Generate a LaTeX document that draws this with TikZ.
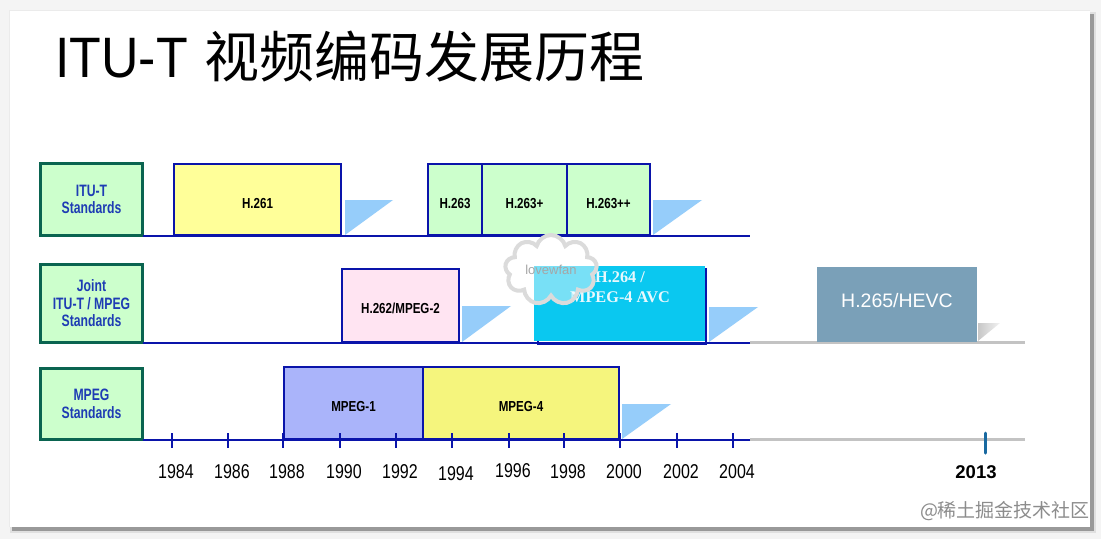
\documentclass[tikz,border=0pt]{standalone}
\usepackage{fontspec}
\setmainfont{Liberation Sans}
\newfontfamily\ttlfont[FakeStretch=0.91]{Liberation Sans}
\newfontfamily\cjkfont{Noto Sans CJK SC}
\newfontfamily\lblfont[FakeStretch=0.74]{Liberation Sans}
\newfontfamily\boxfont[FakeStretch=0.8]{Liberation Sans}
\newfontfamily\yearfont[FakeStretch=0.8]{Liberation Sans}
\newfontfamily\avcfont{Liberation Serif}
\usetikzlibrary{shapes.symbols}
\definecolor{pagebg}{RGB}{244,244,244}
\definecolor{labfill}{RGB}{204,255,204}
\definecolor{labborder}{RGB}{10,100,80}
\definecolor{lbltext}{RGB}{30,60,180}
\definecolor{boxblue}{RGB}{10,20,170}
\definecolor{yel}{RGB}{255,255,153}
\definecolor{yel2}{RGB}{245,245,125}
\definecolor{grn}{RGB}{204,255,204}
\definecolor{pnk}{RGB}{255,228,242}
\definecolor{lav}{RGB}{170,180,250}
\definecolor{cyanbox}{RGB}{10,200,240}
\definecolor{hevc}{RGB}{122,160,184}
\definecolor{tricol}{RGB}{150,205,250}
\definecolor{linegrey}{RGB}{195,195,195}
\definecolor{tickblue}{RGB}{25,105,160}
\definecolor{avctext}{RGB}{232,248,253}
\tikzset{
  lbl/.style={draw=labborder, line width=3pt, fill=labfill, inner sep=0pt, outer sep=0pt,
    anchor=north west, align=center, text=lbltext,
    font=\lblfont\bfseries\fontsize{16.5}{17.5}\selectfont},
  stdbox/.style={draw=boxblue, line width=2pt, inner sep=0pt, outer sep=0pt, anchor=north west},
  boxtext/.style={inner sep=0pt, font=\boxfont\bfseries\fontsize{14.5}{15}\selectfont},
  base/.style={draw=boxblue, line width=2pt},
  greyline/.style={draw=linegrey, line width=3pt},
  tri/.style={fill=tricol},
  tickmark/.style={draw=boxblue, line width=2pt},
  year/.style={inner sep=0pt, font=\yearfont\fontsize{20}{20}\selectfont}
}
\begin{document}
\begin{tikzpicture}[x=1pt,y=-1pt]
\useasboundingbox (0,0) rectangle (1101,539);
% page and slide
\fill[pagebg] (0,0) rectangle (1101,539);
\fill[black!12] (10,12) rectangle (1096,533);
\fill[black!40] (12,14) rectangle (1094,531);
\fill[white] (9,10) rectangle (1090,527);
\draw[black!8, line width=0.6pt] (9,527) -- (9,10) -- (1090,10);
% title
\node[anchor=base west, inner sep=0pt, font=\ttlfont\fontsize{57}{60}\selectfont] (t1) at (55,77) {ITU-T};
\node[anchor=base west, inner sep=0pt, font=\cjkfont\fontsize{55}{60}\selectfont] (t2) at (204,77) {视频编码发展历程};
% row label boxes
\node[lbl, minimum width=102pt, minimum height=72pt] (l1) at (40.5,163.5) {ITU-T\\Standards};
\node[lbl, minimum width=102pt, minimum height=78pt] (l2) at (40.5,264.5) {Joint\\ITU-T / MPEG\\Standards};
\node[lbl, minimum width=102pt, minimum height=71pt] (l3) at (40.5,368.5) {MPEG\\Standards};
\coordinate (e1) at (750,0);
\coordinate (g1) at (1025,0);
% grey extensions
\draw[greyline] (l2.south east -| e1) -- (l2.south east -| g1);
\draw[greyline] (l3.south east -| e1) -- (l3.south east -| g1);
% triangles
\fill[tri] (345,235) -- (345,200) -- (393,200) -- cycle;
\fill[tri] (653,235) -- (653,200) -- (702,200) -- cycle;
\fill[tri] (462,342) -- (462,306) -- (511,306) -- cycle;
\fill[tri] (709,342) -- (709,307) -- (758,307) -- cycle;
\fill[tri] (622,439) -- (622,404) -- (671,404) -- cycle;
\shade[left color=black!22, right color=black!5] (978,341) -- (978,323) -- (1000,323) -- cycle;
% ITU-T row
\node[stdbox, fill=yel, minimum width=167pt, minimum height=71pt] (h261) at (174,164) {};
\node[stdbox, fill=grn, minimum width=54pt, minimum height=71pt] (h263) at (428,164) {};
\node[stdbox, fill=grn, minimum width=85pt, minimum height=71pt] (h263p) at (482,164) {};
\node[stdbox, fill=grn, minimum width=83pt, minimum height=71pt] (h263pp) at (567,164) {};
\node[boxtext] (h261t) at ([yshift=-4pt]h261.center) {H.261};
\node[boxtext] (h263t) at ([yshift=-4pt]h263.center) {H.263};
\node[boxtext] (h263pt) at ([yshift=-4pt]h263p.center) {H.263+};
\node[boxtext] (h263ppt) at ([yshift=-4pt]h263pp.center) {H.263++};
% joint row
\node[stdbox, fill=pnk, minimum width=117pt, minimum height=73pt] (h262) at (342,269) {};
\node[boxtext] (h262t) at ([yshift=-3pt]h262.center) {H.262/MPEG-2};
\draw[draw=boxblue, line width=2pt] (538,269) rectangle (706,344);
\node[fill=cyanbox, inner sep=0pt, outer sep=0pt, anchor=north west, minimum width=171pt, minimum height=75pt] (h264) at (534,266) {};
\node[inner sep=0pt, align=center, text=avctext, font=\avcfont\bfseries\fontsize{16.3}{20}\selectfont] (h264t) at (620,287.5) {H.264 /\\MPEG-4 AVC};
\node[fill=hevc, inner sep=0pt, outer sep=0pt, anchor=north west, minimum width=160pt, minimum height=75pt] (h265) at (817,267) {};
\node[inner sep=0pt, text=white, font=\fontsize{19.5}{22}\selectfont] (h265t) at (897,301) {H.265/HEVC};
% MPEG row
\node[stdbox, fill=lav, minimum width=139pt, minimum height=72pt] (mp1) at (284,367) {};
\node[stdbox, fill=yel2, minimum width=196pt, minimum height=72pt] (mp4) at (423,367) {};
\node[boxtext] (mp1t) at ([yshift=-4pt]mp1.center) {MPEG-1};
\node[boxtext] (mp4t) at ([yshift=-4pt]mp4.center) {MPEG-4};
% blue baselines
\draw[base] (l1.south east) -- (l1.south east -| e1);
\draw[base] (l2.south east) -- (l2.south east -| e1);
\draw[base] (l3.south east) -- (l3.south east -| e1);
% ticks and years
\foreach \x/\yr/\dy in {172/1984/0, 228/1986/0, 283/1988/0, 340/1990/0, 396/1992/0,
  452/1994/2, 509/1996/-1, 564/1998/0, 620/2000/0, 677/2002/0, 733/2004/0} {
  \draw[tickmark] (\x,433) -- (\x,448);
  \node[year] (y\yr) at (\x+4,472+\dy) {\yr};
}
\draw[draw=tickblue, line width=3pt, line cap=round] (985,433) -- (985,453);
\node[inner sep=0pt, font=\bfseries\fontsize{18.5}{20}\selectfont] (y2013) at (976,472) {2013};
% watermarks
\node[cloud, cloud puffs=9, draw=black!14, line width=4pt, fill=white, fill opacity=0.45,
  minimum width=92pt, minimum height=70pt] (wm) at (551,270) {};
\node[inner sep=0pt, text=black!35, font=\fontsize{13}{14}\selectfont] (wmt) at (551,270) {lovewfan};
\node[inner sep=0pt, text=black!45, font=\cjkfont\fontsize{19}{20}\selectfont] (wm2) at (1005,511) {@稀土掘金技术社区};
\end{tikzpicture}
\end{document}
